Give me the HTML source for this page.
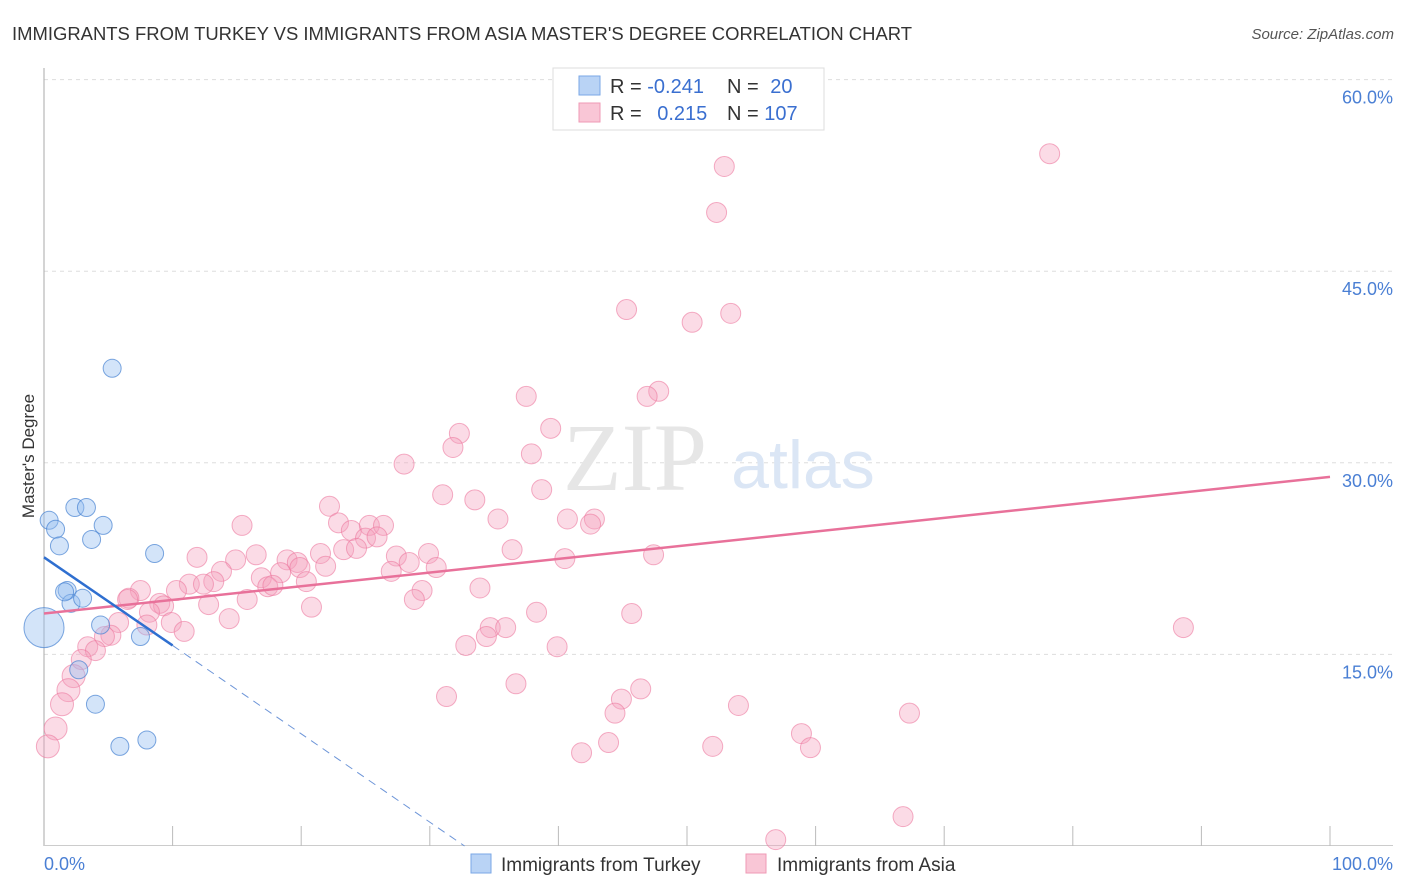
<!DOCTYPE html>
<html><head><meta charset="utf-8"><style>
body{margin:0;background:#fff;font-family:"Liberation Sans",sans-serif;}
svg{display:block}
</style></head><body>
<svg id="chart" width="1406" height="892" xmlns="http://www.w3.org/2000/svg">
<text x="12" y="40" font-size="18" fill="#333" textLength="900" lengthAdjust="spacingAndGlyphs">IMMIGRANTS FROM TURKEY VS IMMIGRANTS FROM ASIA MASTER'S DEGREE CORRELATION CHART</text>
<text x="1394" y="39" font-size="15" fill="#555" font-style="italic" text-anchor="end">Source: ZipAtlas.com</text>
<text x="0" y="0" transform="translate(34,456) rotate(-90)" font-size="17" fill="#333" text-anchor="middle">Master's Degree</text>
<g id="grid"></g>
<g>
<text x="635" y="490" font-size="96" fill="#e6e6e6" font-family="Liberation Serif" text-anchor="middle">ZIP</text>
<text x="803" y="488" font-size="68" fill="#dbe6f5" text-anchor="middle">atlas</text>
</g>
<line x1="44" y1="68" x2="44" y2="846" stroke="#aaa"/>
<line x1="44" y1="845.5" x2="1393" y2="845.5" stroke="#ccc"/>
<g id="ticks"></g>
<g id="pinkpts"></g>
<g id="bluepts"></g>
<g id="lines"></g>
<text x="44" y="870" font-size="18" fill="#4a7fd4">0.0%</text>
<text x="1393" y="870" font-size="18" fill="#4a7fd4" text-anchor="end">100.0%</text>
<g>
<rect x="553" y="68" width="271" height="62" fill="#fff" stroke="#ddd"/>
<rect x="579" y="76" width="21" height="19" fill="#b9d3f5" stroke="#7aa7e6"/>
<rect x="579" y="103" width="21" height="19" fill="#f9c6d6" stroke="#ef9ab5"/>
<text x="610" y="93" font-size="20" fill="#333">R = <tspan fill="#3a6fd0">-0.241</tspan></text>
<text x="727" y="93" font-size="20" fill="#333">N = <tspan fill="#3a6fd0" dx="6">20</tspan></text>
<text x="610" y="120" font-size="20" fill="#333">R = <tspan fill="#3a6fd0" dx="10">0.215</tspan></text>
<text x="727" y="120" font-size="20" fill="#333">N = <tspan fill="#3a6fd0">107</tspan></text>
</g>
<g>
<rect x="471" y="854" width="20" height="19" fill="#b9d3f5" stroke="#7aa7e6"/>
<text x="501" y="871" font-size="19" fill="#333">Immigrants from Turkey</text>
<rect x="746" y="854" width="20" height="19" fill="#f9c6d6" stroke="#ef9ab5"/>
<text x="777" y="871" font-size="19" fill="#333">Immigrants from Asia</text>
</g>
</svg>
<script>
const yTicks=[15,30,45,60];
const yTickLabels=["15.0%","30.0%","45.0%","60.0%"];
const xTicks=[10,20,30,40,50,60,70,80,90,100];
const turkeyX=[0.4,0.9,1.2,2.4,3.3,4.6,3.7,8.6,5.3,1.8,2.1,3.0,1.6,4.4,7.5,2.7,4.0,5.9,8.0,0];
const turkeyY=[25.5,24.8,23.5,26.5,26.5,25.1,24.0,22.9,37.4,20.0,19.0,19.4,19.9,17.3,16.4,13.8,11.1,7.8,8.3,17.1];
const turkeyR=[9,9,9,9,9,9,9,9,9,9,9,9,9,9,9,9,9,9,9,20];
const asiaX=[78.2,52.9,52.3,45.3,50.4,53.4,47.8,46.9,37.5,32.3,31.8,39.4,37.9,28.0,31.0,33.5,38.7,22.2,35.3,40.7,42.8,42.5,15.4,22.9,23.9,25.3,26.4,25.0,25.9,23.3,24.3,21.5,36.4,47.4,40.5,29.9,27.4,28.4,18.9,19.7,16.5,11.9,14.9,21.9,30.5,19.9,18.4,27.0,13.8,16.9,20.4,11.3,13.2,12.4,17.4,17.8,10.3,29.4,33.9,15.8,28.8,12.8,7.5,6.6,6.5,9.0,9.3,8.2,20.8,38.3,45.7,14.4,9.9,5.8,8.0,10.9,34.7,35.9,34.4,5.2,4.7,88.6,32.8,39.9,3.4,4.0,2.9,2.3,1.9,36.7,31.3,46.4,44.9,44.4,54.0,67.3,1.4,0.9,0.3,43.9,52.0,58.9,59.6,41.8,66.8,56.9];
const asiaY=[54.2,53.2,49.6,42.0,41.0,41.7,35.6,35.2,35.2,32.3,31.2,32.7,30.7,29.9,27.5,27.1,27.9,26.6,25.6,25.6,25.6,25.2,25.1,25.3,24.7,25.1,25.1,24.1,24.2,23.2,23.3,22.9,23.2,22.8,22.5,22.9,22.7,22.2,22.4,22.2,22.8,22.6,22.4,21.9,21.8,21.8,21.4,21.5,21.5,21.0,20.7,20.5,20.7,20.5,20.3,20.4,20.0,20.0,20.2,19.3,19.3,18.9,20.0,19.4,19.3,19.0,18.8,18.3,18.7,18.3,18.2,17.8,17.5,17.5,17.3,16.8,17.1,17.1,16.4,16.5,16.4,17.1,15.7,15.6,15.6,15.3,14.6,13.3,12.2,12.7,11.7,12.3,11.5,10.4,11.0,10.4,11.1,9.2,7.8,8.1,7.8,8.8,7.7,7.3,2.3,0.5];
const turkeyTrend=[[0,22.6],[10,15.7]];
const turkeyTrendExt=[[10,15.7],[32.7,0]];
const asiaTrend=[[0,18.2],[100,28.9]];
const NS="http://www.w3.org/2000/svg";
const X=v=>44+v*12.86, Y=v=>846-v*12.773;
function mk(tag,attrs,parent){const e=document.createElementNS(NS,tag);for(const k in attrs)e.setAttribute(k,attrs[k]);parent.appendChild(e);return e;}
const grid=document.getElementById('grid');
yTicks.forEach((t,i)=>{
 const l=mk('line',{x1:44,x2:1393,y1:Y(t),y2:Y(t),stroke:'#ddd','stroke-dasharray':'4,4'},grid);
 
 
 const tx=mk('text',{x:1393,y:Y(t)+24,'font-size':18,fill:'#4a7fd4','text-anchor':'end'},grid);
 tx.textContent=yTickLabels[i];
 
 
});
const tk=document.getElementById('ticks');
xTicks.forEach(t=>{
 const l=mk('line',{x1:X(t),x2:X(t),y1:826,y2:846,stroke:'#bbb'},tk);
 
 
});
const pp=document.getElementById('pinkpts');
asiaX.forEach((v,i)=>{
 const r=(v<2.5&&asiaY[i]<14)?11.5:10;
 const c=mk('circle',{cx:X(v),cy:Y(asiaY[i]),r:r,fill:'rgba(245,160,188,0.38)',stroke:'rgba(236,120,158,0.6)','stroke-width':1},pp);
 
 
});
const bp=document.getElementById('bluepts');
turkeyX.forEach((v,i)=>{
 const c=mk('circle',{cx:X(v),cy:Y(turkeyY[i]),r:turkeyR[i],fill:'rgba(150,190,240,0.42)',stroke:'rgba(70,130,210,0.7)','stroke-width':1},bp);
 
 
});
const lg=document.getElementById('lines');
const a=mk('line',{x1:X(asiaTrend[0][0]),y1:Y(asiaTrend[0][1]),x2:X(asiaTrend[1][0]),y2:Y(asiaTrend[1][1]),stroke:'#e8719a','stroke-width':2.5},lg);


const b=mk('line',{x1:X(turkeyTrend[0][0]),y1:Y(turkeyTrend[0][1]),x2:X(turkeyTrend[1][0]),y2:Y(turkeyTrend[1][1]),stroke:'#2f6fd0','stroke-width':2.5},lg);


const d=mk('line',{x1:X(turkeyTrendExt[0][0]),y1:Y(turkeyTrendExt[0][1]),x2:X(turkeyTrendExt[1][0]),y2:Y(turkeyTrendExt[1][1]),stroke:'#6d95d8','stroke-width':1,'stroke-dasharray':'8,6'},lg);


</script>
</body></html>
